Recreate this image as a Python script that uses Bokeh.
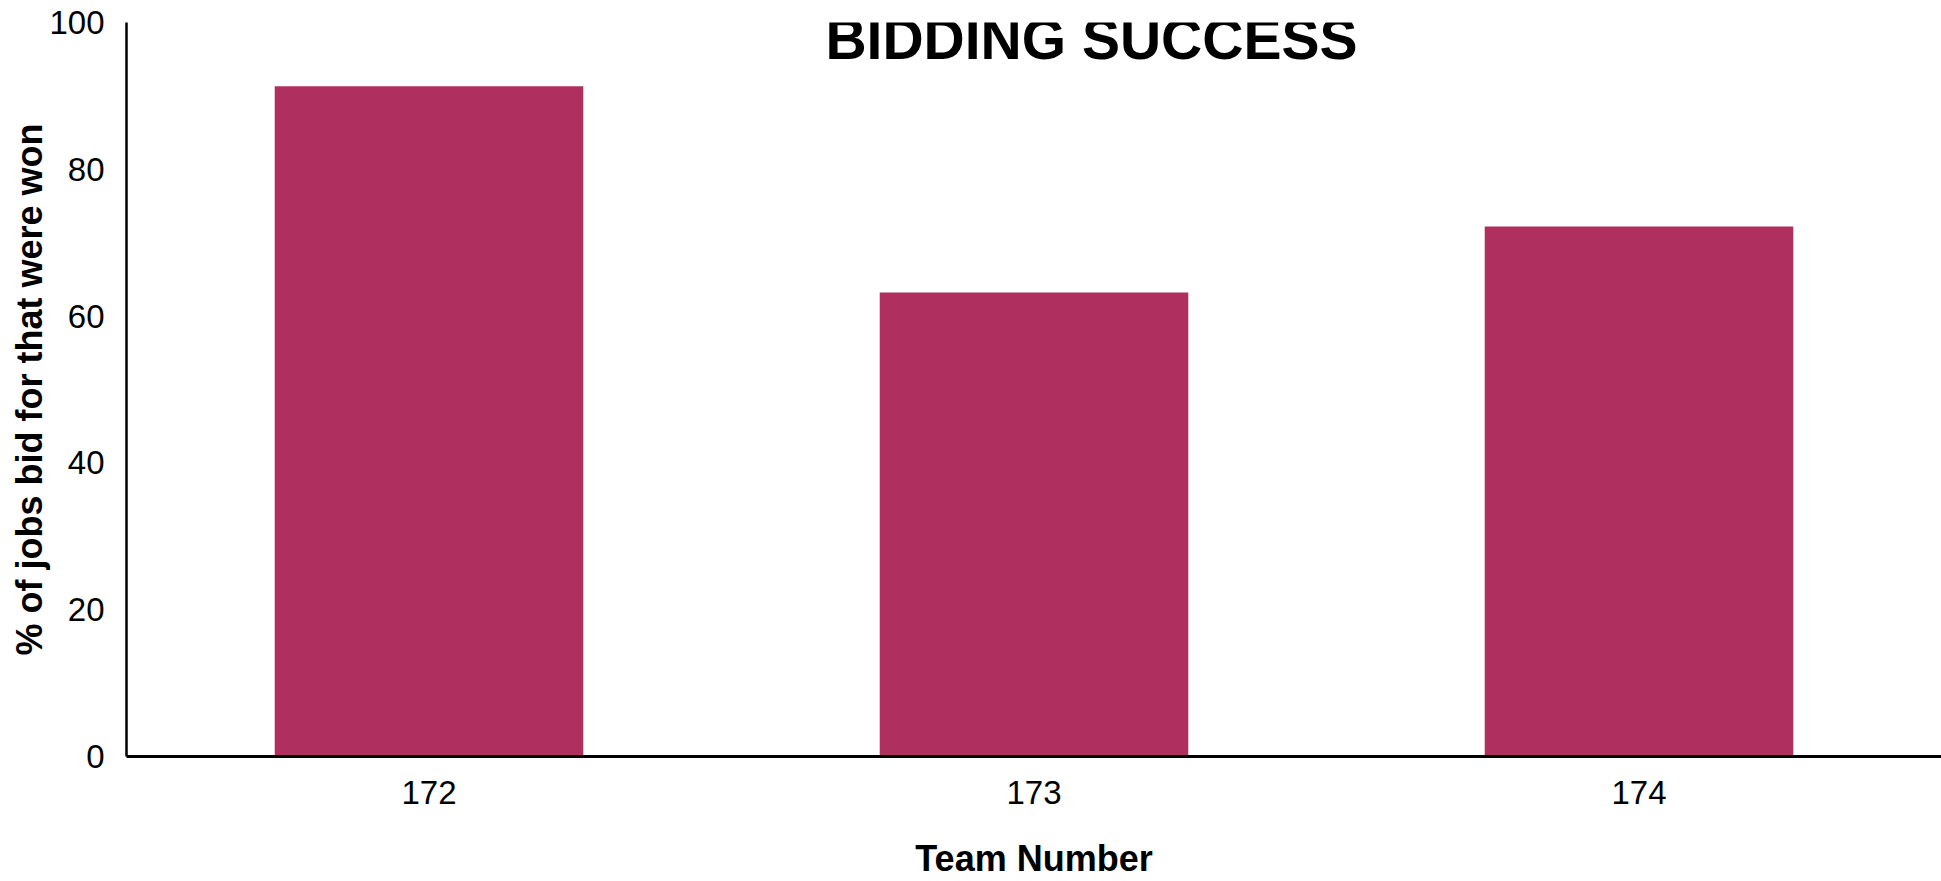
from bokeh.plotting import figure
from bokeh.models import ColumnDataSource, Label, Range1d
from bokeh.embed import file_html
from bokeh.resources import INLINE

teams = ["172", "173", "174"]
win_pct = [91.3, 63.2, 72.2]
y_ticks = [0, 20, 40, 60, 80, 100]
title_text = "BIDDING SUCCESS"
x_title = "Team Number"
y_title = "% of jobs bid for that were won"

FONT = "Liberation Sans"
BAR = "#AF305E"

src = ColumnDataSource(dict(team=teams, pct=win_pct))

p = figure(width=1941, height=881, x_range=teams, y_range=Range1d(0, 100),
           output_backend="svg", toolbar_location=None,
           min_border_left=126, min_border_right=0, min_border_top=22,
           min_border_bottom=125)
p.outline_line_color = None
p.background_fill_color = "white"
p.border_fill_color = "white"
p.grid.visible = False
p.x_range.range_padding = 0

p.vbar(x="team", top="pct", width=0.51, source=src, fill_color=BAR, line_color=None)

# axes
p.yaxis.ticker = y_ticks
p.yaxis.axis_line_color = "black"
p.yaxis.axis_line_width = 2.5
p.yaxis.major_tick_line_color = None
p.yaxis.minor_tick_line_color = None
p.yaxis.major_label_text_font = FONT
p.yaxis.major_label_text_font_size = "33px"
p.yaxis.major_label_text_color = "black"
p.yaxis.major_label_standoff = 16
p.yaxis.axis_label = y_title
p.yaxis.axis_label_text_font = FONT
p.yaxis.axis_label_text_font_style = "bold"
p.yaxis.axis_label_text_font_size = "36px"
p.yaxis.axis_label_text_color = "black"
p.yaxis.axis_label_standoff = -4

p.xaxis.axis_line_color = "black"
p.xaxis.axis_line_width = 3
p.xaxis.major_tick_line_color = None
p.xaxis.minor_tick_line_color = None
p.xaxis.major_label_text_font = FONT
p.xaxis.major_label_text_font_size = "33px"
p.xaxis.major_label_text_color = "black"
p.xaxis.major_label_standoff = 18
p.xaxis.axis_label = x_title
p.xaxis.axis_label_text_font = FONT
p.xaxis.axis_label_text_font_style = "bold"
p.xaxis.axis_label_text_font_size = "36px"
p.xaxis.axis_label_text_color = "black"
p.xaxis.axis_label_standoff = 31

p.add_layout(Label(x=1.595, y=97.8, text=title_text, text_align="center",
                   text_baseline="middle", text_font=FONT, text_font_style="bold",
                   text_font_size="57px", text_color="black"))

open("out.html", "w").write(file_html(p, INLINE))
